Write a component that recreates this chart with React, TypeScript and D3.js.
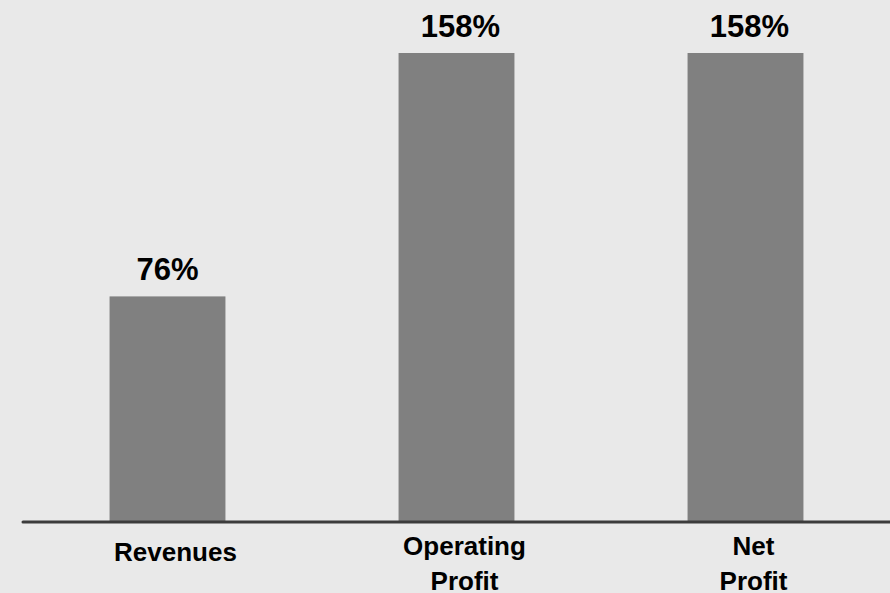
import React from "react";
import * as d3 from "d3";

const categories: string[][] = [["Revenues"], ["Operating", "Profit"], ["Net", "Profit"]];
const values: number[] = [76, 158, 158];
const valueLabels: string[] = ["76%", "158%", "158%"];

const W = 890;
const H = 593;
const AXIS_Y = 522;
const TOP_Y = 53;
const FONT = "'Liberation Sans', Arial, Helvetica, sans-serif";

export default function App() {
  const keys = categories.map((c) => c.join(" "));
  const x = d3
    .scaleBand<string>()
    .domain(keys)
    .range([23, W])
    .paddingInner(0.599)
    .paddingOuter(0.2995);
  const y = d3.scaleLinear().domain([0, d3.max(values) as number]).range([AXIS_Y, TOP_Y]);

  return (
    <svg
      width={W}
      height={H}
      style={{ position: "absolute", left: 0, top: 0, display: "block" }}
      fontFamily={FONT}
    >
      <rect x={0} y={0} width={W} height={H} fill="#e9e9e9" />
      {values.map((v, i) => {
        const k = keys[i];
        const bx = x(k) as number;
        return (
          <g key={k}>
            <rect x={bx} y={y(v)} width={x.bandwidth()} height={AXIS_Y - y(v)} fill="#808080" />
            <text
              x={bx + x.bandwidth() / 2 + (i === 0 ? 0 : 4)}
              y={y(v) - 16}
              textAnchor="middle"
              fontSize={31}
              fontWeight="bold"
              fill="#000"
            >
              {valueLabels[i]}
            </text>
          </g>
        );
      })}
      <line x1={23} x2={W} y1={AXIS_Y} y2={AXIS_Y} stroke="#3c3c3c" strokeWidth={3} strokeLinecap="round" />
      {categories.map((lines, i) => {
        const k = keys[i];
        const cx = (x(k) as number) + x.bandwidth() / 2 + 8;
        const firstBase = lines.length === 1 ? 561 : 555;
        return (
          <text key={k} textAnchor="middle" fontSize={26} fontWeight="bold" fill="#000">
            {lines.map((ln, j) => (
              <tspan key={j} x={cx} y={firstBase + j * 35}>
                {ln}
              </tspan>
            ))}
          </text>
        );
      })}
    </svg>
  );
}
